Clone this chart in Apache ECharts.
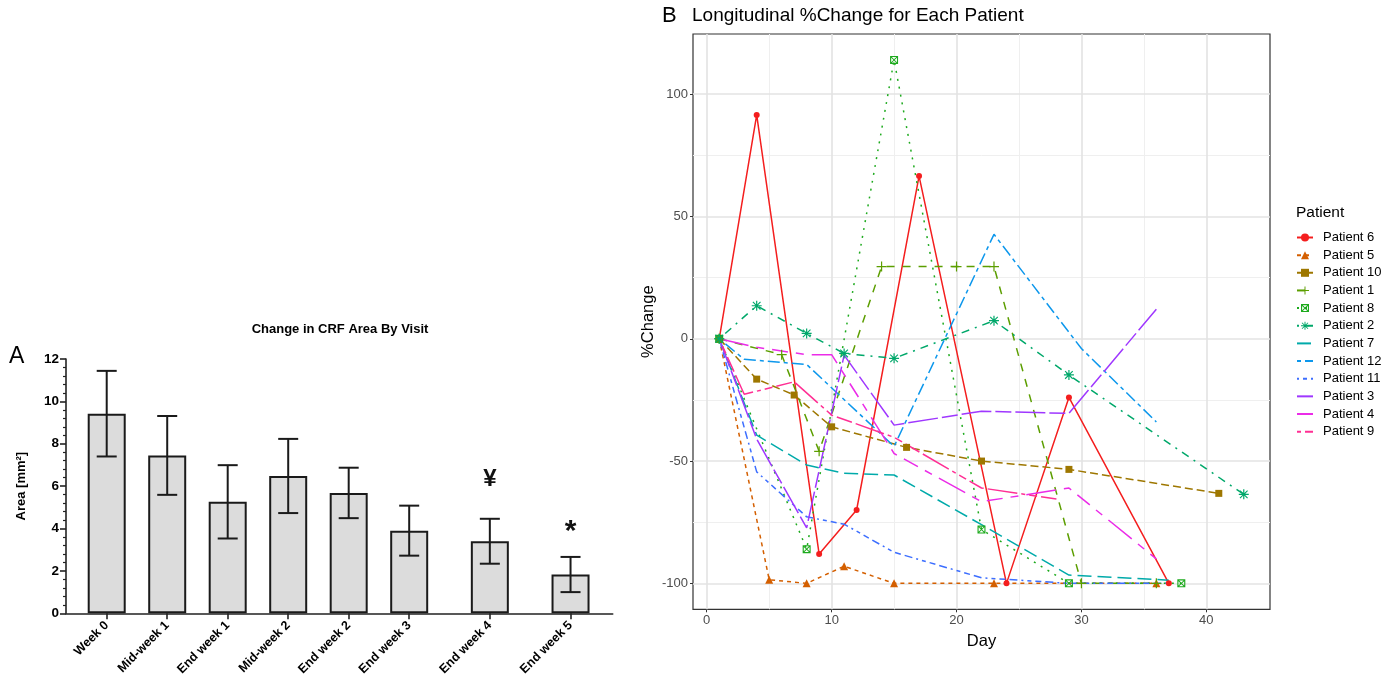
<!DOCTYPE html>
<html><head><meta charset="utf-8">
<script src="https://cdn.jsdelivr.net/npm/echarts@6/dist/echarts.min.js"></script>
<style>html,body{margin:0;padding:0;background:#fff}#c{width:1397px;height:687px}</style>
</head><body><div id="c"></div>
<script>
// ---------- Panel A data ----------
const visitLabels = ['Week 0','Mid-week 1','End week 1','Mid-week 2','End week 2','End week 3','End week 4','End week 5'];
const areaMean = [9.42, 7.45, 5.26, 6.48, 5.68, 3.90, 3.40, 1.83];
const areaErr  = [2.02, 1.86, 1.73, 1.75, 1.19, 1.18, 1.06, 0.83];
const visitMarks = ['', '', '', '', '', '', '¥', '*'];
const visitMarkY = [null, null, null, null, null, null, 6.3, 3.85];

// ---------- Panel B data ----------
const p6Days  = [1,4,9,12,17,24,29,37];
const p6Vals  = [0,91.5,-88,-70,66.5,-100,-24,-100];
const p5Days  = [1,5,8,11,15,23,36];
const p5Vals  = [0,-98.5,-100,-93,-100,-100,-100];
const p10Days = [1,4,7,10,16,22,29,41];
const p10Vals = [0,-16.5,-23,-36,-44.4,-50,-53.4,-63.2];
const p1Days  = [1,6,9,14,20,23,30,36];
const p1Vals  = [0,-6.5,-46,29.5,29.5,29.5,-100,-100];
const p8Days  = [1,8,15,22,29,38];
const p8Vals  = [0,-86,114,-78,-100,-100];
const p2Days  = [1,4,8,11,15,23,29,43];
const p2Vals  = [0,13.5,2.2,-6,-8,7.4,-14.8,-63.6];
const p7Days  = [1,4,8,11,15,22,29,37];
const p7Vals  = [0,-39.4,-51.6,-55,-55.7,-76,-96.6,-98.7];
const p12Days = [1,3,8,15,23,30,36];
const p12Vals = [0,-8.4,-10.5,-44,42.7,-4,-34];
const p11Days = [1,4,8,11,15,22,29,37];
const p11Vals = [0,-54.4,-72.8,-75.8,-87.3,-97.7,-100,-100];
const p3Days  = [1,4,8,11,15,22,29,36];
const p3Vals  = [0,-41,-77.3,-6.7,-35.3,-29.6,-30.5,12.1];
const p4Days  = [1,4,8,10,15,22,29,36];
const p4Vals  = [0,-3.5,-6.5,-6.5,-46.9,-66.6,-61,-90];
const p9Days  = [1,3,7,10,15,22,28];
const p9Vals  = [0,-22.7,-17.6,-31.2,-40.3,-61,-65.5];
const patientNames = ['Patient 6','Patient 5','Patient 10','Patient 1','Patient 8','Patient 2','Patient 7','Patient 12','Patient 11','Patient 3','Patient 4','Patient 9'];
const dayTicks = [0, 10, 20, 30, 40];
const dayMinor = [5, 15, 25, 35];
const changeTicks = [-100, -50, 0, 50, 100];
const changeMinor = [-75, -25, 25, 75];

// ---------- layout / style (not data) ----------
const visitPos = [0, 1, 2, 3, 4, 5, 6.333, 7.667];
const U = 2; // dash unit
const PLUS = 'path://M4.4,0h1.2v10h-1.2zM0,4.4h10v1.2h-10z';
const ASTER = 'path://M4.4,0h1.2v10h-1.2zM0,4.4h10v1.2h-10zM0.8,1.6L1.6,0.8L9.2,8.4L8.4,9.2zM8.4,0.8L9.2,1.6L1.6,9.2L0.8,8.4z';
const SQX = 'path://M0,0H10V10H0ZM1.4,1.4V8.6H8.6V1.4ZM0.8,1.6L1.6,0.8L9.2,8.4L8.4,9.2zM8.4,0.8L9.2,1.6L1.6,9.2L0.8,8.4z';
const styles = [
  {days:p6Days,  vals:p6Vals,  color:'#F41E1E', dash:'solid', symbol:'circle', size:6},
  {days:p5Days,  vals:p5Vals,  color:'#D45F00', dash:[2,2], symbol:'triangle', size:8},
  {days:p10Days, vals:p10Vals, color:'#9E7700', dash:[4,2], symbol:'rect', size:7},
  {days:p1Days,  vals:p1Vals,  color:'#5C9E00', dash:[4,4], symbol:PLUS, size:10},
  {days:p8Days,  vals:p8Vals,  color:'#1DAA1D', dash:[1,3], symbol:SQX, size:8},
  {days:p2Days,  vals:p2Vals,  color:'#00A86A', dash:[1,3,4,3], symbol:ASTER, size:10},
  {days:p7Days,  vals:p7Vals,  color:'#00AAAA', dash:[7,3], symbol:'none', size:0},
  {days:p12Days, vals:p12Vals, color:'#0C97EC', dash:[2,2,6,2], symbol:'none', size:0},
  {days:p11Days, vals:p11Vals, color:'#3C6EFF', dash:[1,2,2,2,3,2,4,2], symbol:'none', size:0},
  {days:p3Days,  vals:p3Vals,  color:'#9F37FF', dash:[15,2,8,2], symbol:'none', size:0},
  {days:p4Days,  vals:p4Vals,  color:'#EB2CE8', dash:[15,4,4,4,8,4,4,4], symbol:'none', size:0},
  {days:p9Days,  vals:p9Vals,  color:'#FF2F94', dash:[2,2,4,2,8,2,15,2], symbol:'none', size:0}
];

const FONT = 'Liberation Sans, Arial, Helvetica, sans-serif';
const chart = echarts.init(document.getElementById('c'), null, {renderer: 'canvas'});

const patientSeries = styles.map((s, i) => ({
  name: patientNames[i],
  type: 'line',
  xAxisIndex: 1, yAxisIndex: 1,
  data: s.days.map((d, k) => [d, s.vals[k]]),
  symbol: s.symbol,
  symbolSize: s.size,
  showSymbol: s.symbol !== 'none',
  z: 3,
  lineStyle: {color: s.color, width: 1.5, type: s.dash === 'solid' ? 'solid' : s.dash.map(v => v * U)},
  itemStyle: {color: s.color},
  emphasis: {disabled: true},
  animation: false
}));

const legendData = patientNames.map((n, i) => styles[i].symbol === 'none'
  ? {name: n, itemStyle: {opacity: 0, borderWidth: 0}}
  : {name: n});

const gridLineSeries = {
  type: 'line', xAxisIndex: 1, yAxisIndex: 1, data: [], silent: true, z: 1,
  markLine: {
    silent: true, symbol: ['none', 'none'], z: 1, animation: false,
    label: {show: false},
    data: [
      ...dayMinor.map(v => ({xAxis: v, lineStyle: {color: '#EFEFEF', width: 1, type: 'solid'}})),
      ...changeMinor.map(v => ({yAxis: v, lineStyle: {color: '#EFEFEF', width: 1, type: 'solid'}})),
      ...dayTicks.map(v => ({xAxis: v, lineStyle: {color: '#E3E3E3', width: 1.6, type: 'solid'}})),
      ...changeTicks.map(v => ({yAxis: v, lineStyle: {color: '#E3E3E3', width: 1.6, type: 'solid'}}))
    ]
  }
};

const option = {
  backgroundColor: '#fff',
  animation: false,
  textStyle: {fontFamily: FONT},
  title: [
    {text: 'A', left: 9, top: 345, padding: 0, textStyle: {fontSize: 23, fontWeight: 'normal', color: '#000', fontFamily: FONT}},
    {text: 'Change in CRF Area By Visit', left: 340, textAlign: 'center', top: 323, padding: 0, textStyle: {fontSize: 13, fontWeight: 'bold', color: '#000', fontFamily: FONT}},
    {text: 'B', left: 662, top: 5, padding: 0, textStyle: {fontSize: 22, fontWeight: 'normal', color: '#000', fontFamily: FONT}},
    {text: 'Longitudinal %Change for Each Patient', left: 692, top: 6, padding: 0, textStyle: {fontSize: 19, fontWeight: 'normal', color: '#000', fontFamily: FONT}},
    {text: 'Patient', left: 1296, top: 205, padding: 0, textStyle: {fontSize: 15.5, fontWeight: 'normal', color: '#000', fontFamily: FONT}}
  ],
  legend: {
    orient: 'vertical', left: 1296, top: 231, padding: 0,
    itemWidth: 16, itemHeight: 10, itemGap: 4.65,
    data: legendData,
    textStyle: {fontSize: 13, color: '#000', fontFamily: FONT, padding: [0, 0, 0, 5]},
    selectedMode: false
  },
  grid: [
    {left: 66, top: 359, width: 546.7, height: 254.3, containLabel: false},
    {left: 693, top: 34, width: 577, height: 575.3, containLabel: false, show: true, borderColor: '#333', borderWidth: 1.2, backgroundColor: 'transparent'}
  ],
  xAxis: [
    {type: 'value', gridIndex: 0, min: -0.673, max: 8.364,
     axisLine: {show: true, onZero: false, lineStyle: {color: '#222', width: 1.6}},
     axisTick: {show: true, length: 6, customValues: visitPos, lineStyle: {color: '#222', width: 1.6}},
     axisLabel: {customValues: visitPos, rotate: 45, margin: 10, fontSize: 12.5, fontWeight: 'bold', color: '#000', fontFamily: FONT,
       formatter: v => { const i = visitPos.findIndex(p => Math.abs(p - v) < 0.01); return i >= 0 ? visitLabels[i] : ''; }},
     splitLine: {show: false}},
    {type: 'value', gridIndex: 1, min: -1.1, max: 45.1,
     name: 'Day', nameLocation: 'middle', nameGap: 24, nameTextStyle: {fontSize: 16.5, color: '#000', fontFamily: FONT},
     axisLine: {show: false, onZero: false},
     axisTick: {show: true, length: 3, customValues: dayTicks, lineStyle: {color: '#333', width: 1}},
     axisLabel: {customValues: dayTicks, fontSize: 13, color: '#4D4D4D', margin: 5, fontFamily: FONT},
     splitLine: {show: false}}
  ],
  yAxis: [
    {type: 'value', gridIndex: 0, min: 0, max: 12, interval: 2,
     name: 'Area [mm²]', nameLocation: 'middle', nameGap: 38, nameTextStyle: {fontSize: 13, fontWeight: 'bold', color: '#000', fontFamily: FONT},
     axisLine: {show: true, onZero: false, lineStyle: {color: '#222', width: 1.6}},
     axisTick: {show: true, length: 6, lineStyle: {color: '#222', width: 1.6}},
     minorTick: {show: true, splitNumber: 5, length: 3, lineStyle: {color: '#222', width: 1.2}},
     axisLabel: {fontSize: 13.5, fontWeight: 'bold', color: '#000', margin: 7, fontFamily: FONT},
     splitLine: {show: false}},
    {type: 'value', gridIndex: 1, min: -110.6, max: 124.6,
     name: '%Change', nameLocation: 'middle', nameGap: 36, nameTextStyle: {fontSize: 16.5, color: '#000', fontFamily: FONT},
     axisLine: {show: false, onZero: false},
     axisTick: {show: true, length: 3, customValues: changeTicks, lineStyle: {color: '#333', width: 1}},
     axisLabel: {customValues: changeTicks, fontSize: 13, color: '#4D4D4D', margin: 5, fontFamily: FONT},
     splitLine: {show: false}}
  ],
  series: [
    {type: 'bar', xAxisIndex: 0, yAxisIndex: 0, barWidth: 38,
     data: visitPos.map((p, i) => [p, areaMean[i]]),
     itemStyle: {color: '#DCDCDC', borderColor: '#1A1A1A', borderWidth: 2},
     emphasis: {disabled: true}, z: 2},
    {type: 'custom', xAxisIndex: 0, yAxisIndex: 0, z: 3,
     data: visitPos.map((p, i) => [p, areaMean[i] - areaErr[i], areaMean[i] + areaErr[i]]),
     renderItem: (params, api) => {
       const x = api.value(0);
       const lo = api.coord([x, api.value(1)]);
       const hi = api.coord([x, api.value(2)]);
       const st = {stroke: '#1A1A1A', lineWidth: 2};
       return {type: 'group', children: [
         {type: 'line', shape: {x1: hi[0], y1: hi[1], x2: lo[0], y2: lo[1]}, style: st},
         {type: 'line', shape: {x1: hi[0] - 10, y1: hi[1], x2: hi[0] + 10, y2: hi[1]}, style: st},
         {type: 'line', shape: {x1: lo[0] - 10, y1: lo[1], x2: lo[0] + 10, y2: lo[1]}, style: st}
       ]};
     }},
    {type: 'custom', xAxisIndex: 0, yAxisIndex: 0, z: 4,
     data: visitPos.map((p, i) => [p, visitMarkY[i] == null ? 0 : visitMarkY[i]]),
     renderItem: (params, api) => {
       const i = params.dataIndex;
       if (!visitMarks[i]) return null;
       const pt = api.coord([api.value(0), api.value(1)]);
       return {type: 'text', x: pt[0], y: pt[1], style: {text: visitMarks[i], fill: '#111', font: 'bold ' + (visitMarks[i] === '*' ? 30 : 24) + 'px ' + FONT, align: 'center', verticalAlign: 'middle'}};
     }},
    gridLineSeries,
    ...patientSeries
  ]
};
chart.setOption(option);
</script>
</body></html>
